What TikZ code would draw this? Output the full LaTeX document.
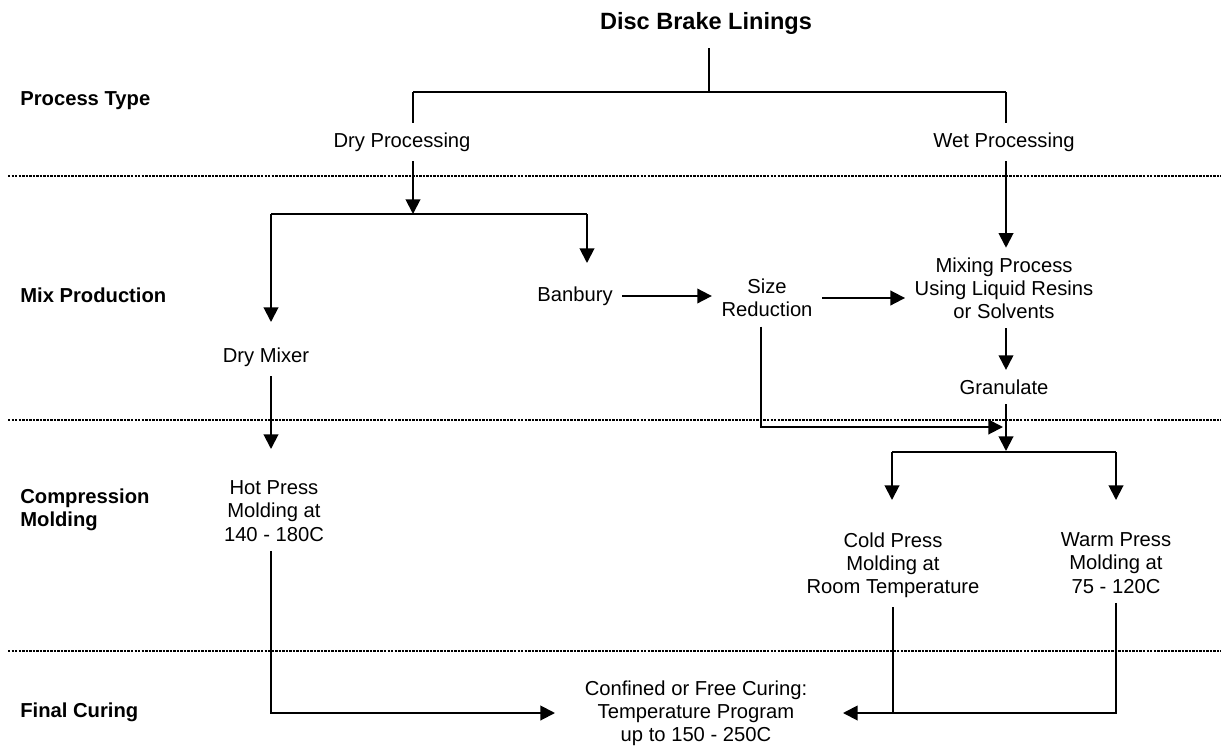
\documentclass[tikz,border=0pt]{standalone}
\usepackage{fontspec}
\setmainfont{Liberation Sans}
\usetikzlibrary{arrows.meta}

\tikzstyle{stage} = [anchor=west, align=left, inner sep=0pt, font=\bfseries\fontsize{11.5}{13.2}\selectfont]
\tikzstyle{proc} = [align=center, inner sep=0pt, outer sep=5.5pt, font=\fontsize{11.5}{13.2}\selectfont]
\tikzstyle{conn} = [line width=1.1pt]
\tikzstyle{arr} = [conn, -{Triangle[length=8.3pt,width=8.3pt]}]
\tikzstyle{sep} = [line width=0.6pt, dash pattern=on 1.4pt off 0.6pt]

\begin{document}
\begin{tikzpicture}[x=0.02cm, y=-0.02cm]
\useasboundingbox (0,0) rectangle (1221,751);

\node[inner sep=0pt, outer sep=8pt, font=\bfseries\fontsize{13.4}{15}\selectfont] (title) at (706,23) {Disc Brake Linings};

\node[stage] (ptype) at (20,101) {Process Type};
\node[stage] (mixprod) at (20,295) {Mix Production};
\node[stage] (compmold) at (20,510) {Compression\\Molding};
\node[stage] (finalcure) at (20,712) {Final Curing};

\draw[sep] (8,176) -- (1221,176);
\draw[sep] (8,420) -- (1221,420);
\draw[sep] (8,651) -- (1221,651);

\node[proc] (dry) at (402,142) {Dry Processing};
\node[proc] (wet) at (1004,142) {Wet Processing};
\node[proc] (mixer) at (266,357) {Dry Mixer};
\node[proc] (banbury) at (575,296) {Banbury};
\node[proc] (size) at (767,298) {Size\\Reduction};
\node[proc] (mixing) at (1004,288) {Mixing Process\\Using Liquid Resins\\or Solvents};
\node[proc] (gran) at (1004,387) {Granulate};
\node[proc] (hot) at (274,511) {Hot Press\\Molding at\\140 - 180C};
\node[proc] (cold) at (893,565) {Cold Press\\Molding at\\Room Temperature};
\node[proc] (warm) at (1116,563) {Warm Press\\Molding at\\75 - 120C};
\node[proc] (cure) at (696,713) {Confined or Free Curing:\\Temperature Program\\up to 150 - 250C};

\coordinate (split) at (709,92);
\coordinate (dtop) at (413,92);
\coordinate (wtop) at (1006,92);
\coordinate (dj) at (413,214);
\coordinate (mj) at (271,214);
\coordinate (bj) at (587,214);
\coordinate (mixin) at (271,322);
\coordinate (banin) at (587,263);
\coordinate (sx) at (761,427);
\coordinate (gin) at (1003,427);
\coordinate (gj) at (1006,451);
\coordinate (cj) at (892,452);
\coordinate (wj) at (1116,452);
\coordinate (coldin) at (892,500);
\coordinate (warmin) at (1116,500);
\coordinate (hotin) at (271,449);
\coordinate (curel) at (555,713);
\coordinate (curer) at (843,713);

\draw[conn] (title.south -| split) -- (split);
\draw[conn] (dtop) -- (wtop);
\draw[conn] (dtop) -- (dtop |- dry.north);
\draw[conn] (wtop) -- (wtop |- wet.north);

\draw[arr] (dry.south -| dj) -- (dj);
\draw[conn] (mj) -- (bj);
\draw[arr] (mj) -- (mixin);
\draw[arr] (bj) -- (banin);
\draw[arr] (banbury.east) -- (banbury.east -| size.west);
\draw[arr] (size.east) -- (size.east -| mixing.west);
\draw[arr] (wet.south -| wtop) -- (wtop |- mixing.north);
\draw[arr] (mixing.south -| wtop) -- (wtop |- gran.north);
\draw[arr] (gran.south -| wtop) -- (gj);
\draw[arr] (size.south -| sx) -- (sx) -- (gin);

\draw[conn] (cj) -- (wj);
\draw[arr] (cj) -- (coldin);
\draw[arr] (wj) -- (warmin);
\draw[arr] (mixer.south -| mj) -- (hotin);

\draw[arr] (hot.south -| mj) |- (curel);
\draw[arr] (cold.south) |- (curer);
\draw[conn] (warm.south) |- (cold.south |- curer);
\end{tikzpicture}
\end{document}
